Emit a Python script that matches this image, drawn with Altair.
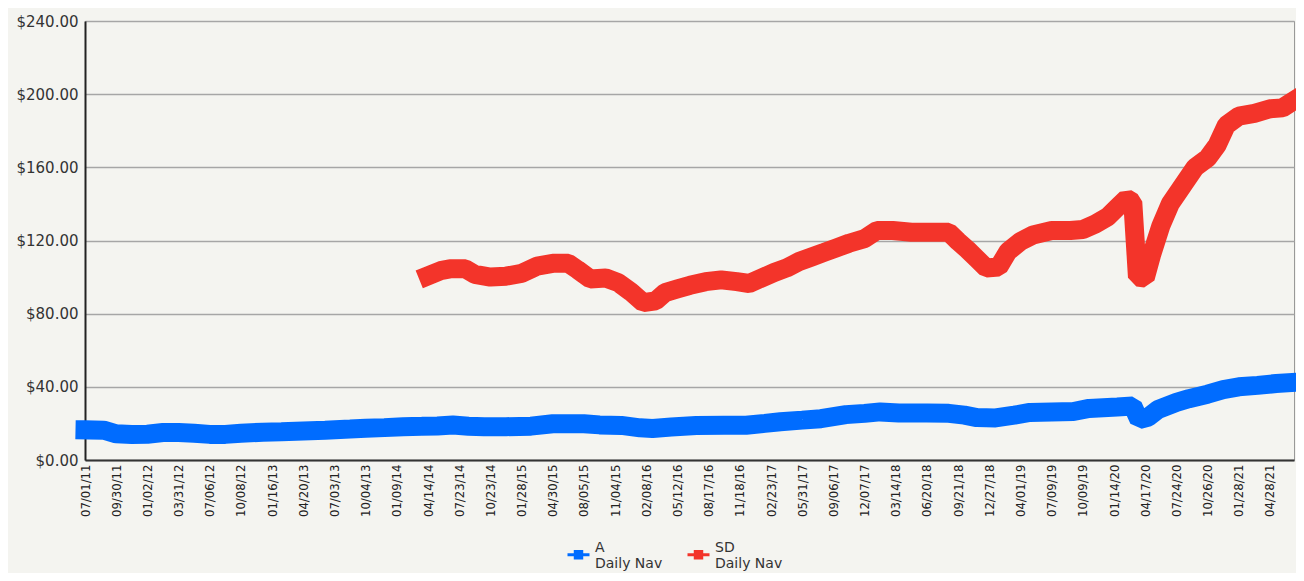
import altair as alt
import pandas as pd

tick_labels = [
    "07/01/11", "09/30/11", "01/02/12", "03/31/12", "07/06/12", "10/08/12",
    "01/16/13", "04/20/13", "07/03/13", "10/04/13", "01/09/14", "04/14/14",
    "07/23/14", "10/23/14", "01/28/15", "04/30/15", "08/05/15", "11/04/15",
    "02/08/16", "05/12/16", "08/17/16", "11/18/16", "02/23/17", "05/31/17",
    "09/06/17", "12/07/17", "03/14/18", "06/20/18", "09/21/18", "12/27/18",
    "04/01/19", "07/09/19", "10/09/19", "01/14/20", "04/17/20", "07/24/20",
    "10/26/20", "01/28/21", "04/28/21",
]

series_names = ["A", "SD"]
series_colors = ["#006cff", "#f3342a"]

# positions in units of tick intervals (trading-day index / tick step)
blue_t = [0.0, 0.6, 1.0, 1.5, 2.0, 2.5, 3.0, 3.5, 4.0, 4.5, 5.0, 5.7, 6.3, 7.0,
          7.7, 8.5, 9.0, 9.6, 10.2, 10.8, 11.3, 11.8, 12.3, 12.8, 13.5, 14.3,
          15.0, 16.0, 16.5, 17.2, 17.8, 18.2, 18.8, 19.6, 20.5, 21.2, 21.8,
          22.3, 23.0, 23.6, 24.4, 25.0, 25.5, 26.1, 27.0, 27.7, 28.2, 28.6,
          29.2, 29.8, 30.3, 31.0, 31.7, 32.2, 33.1, 33.6, 33.8, 34.1, 34.4,
          35.0, 35.4, 36.0, 36.5, 37.0, 37.6, 38.2, 38.77]
blue_v = [16.5, 16.3, 14.3, 14.0, 14.1, 15.0, 15.0, 14.6, 14.0, 14.0, 14.6,
          15.2, 15.5, 15.9, 16.3, 16.9, 17.3, 17.7, 18.2, 18.4, 18.6, 19.1,
          18.5, 18.2, 18.2, 18.5, 19.8, 19.8, 19.2, 18.9, 17.6, 17.2, 18.0,
          18.9, 19.0, 19.0, 20.0, 20.9, 21.8, 22.6, 24.8, 25.5, 26.3, 25.7,
          25.7, 25.5, 24.5, 23.2, 23.0, 24.5, 26.0, 26.3, 26.5, 28.2, 29.0,
          29.5, 22.0, 23.5, 27.5, 31.5, 33.5, 36.0, 38.5, 40.0, 40.8, 41.8,
          42.4]

red_t = [11.0, 11.4, 11.7, 12.2, 12.5, 13.0, 13.5, 14.0, 14.5, 15.0, 15.5,
         15.8, 16.2, 16.7, 17.1, 17.5, 17.9, 18.3, 18.6, 19.0, 19.4, 19.9,
         20.4, 20.9, 21.3, 21.7, 22.1, 22.5, 22.9, 23.3, 23.7, 24.1, 24.5,
         25.0, 25.4, 25.9, 26.5, 27.2, 27.7, 28.0, 28.3, 28.6, 28.9, 29.3,
         29.6, 30.0, 30.4, 31.0, 31.6, 32.0, 32.4, 32.8, 33.1, 33.4, 33.6,
         33.75, 34.0, 34.2, 34.5, 34.8, 35.2, 35.6, 36.0, 36.3, 36.6, 37.0,
         37.5, 38.0, 38.4, 38.77]
red_v = [100.7, 103.5, 104.5, 104.5, 101.5, 100.0, 100.5, 102.0, 106.0,
         107.5, 107.5, 104.0, 99.0, 99.5, 97.0, 92.0, 86.0, 87.0, 91.5, 93.5,
         95.5, 97.5, 98.5, 97.5, 96.5, 99.5, 102.5, 105.0, 108.5, 111.0,
         113.5, 116.0, 118.5, 121.0, 125.5, 125.5, 124.5, 124.5, 124.5, 119.5,
         115.0, 110.0, 105.0, 105.5, 114.0, 119.5, 123.0, 125.5, 125.5, 126.0,
         129.0, 133.0, 138.0, 143.0, 141.0, 100.0, 99.5, 112.0, 128.0, 140.0,
         150.0, 160.0, 165.0, 172.0, 183.0, 188.0, 189.5, 192.0, 192.5, 196.5]

rows = [{"t": t, "nav": v, "fund": "A"} for t, v in zip(blue_t, blue_v)]
rows += [{"t": t, "nav": v, "fund": "SD"} for t, v in zip(red_t, red_v)]
df = pd.DataFrame(rows)

label_js = "[" + ",".join("'" + s + "'" for s in tick_labels) + "]"

# line with a filled square, drawn lower so it sits between the two label lines
legend_symbol = ("M-1,0.64L1,0.64M-0.43,0.34L0.43,0.34M-0.43,0.54L0.43,0.54"
                 "M-0.43,0.74L0.43,0.74M-0.43,0.94L0.43,0.94")

chart = alt.Chart(df).mark_line(
    strokeWidth=19, strokeCap="square", strokeJoin="bevel"
).encode(
    x=alt.X(
        "t:Q",
        scale=alt.Scale(domain=[0, 38.77], nice=False, zero=False),
        axis=alt.Axis(
            values=list(range(len(tick_labels))),
            labelExpr=label_js + "[datum.value]",
            labelAngle=270,
            title=None,
            ticks=False,
            grid=False,
            labelPadding=4,
            labelFont="DejaVu Sans Condensed, Liberation Sans Narrow, sans-serif",
            labelFontSize=13,
            labelColor="#222222",
            labelOverlap=False,
            labelFlush=False,
            domainColor="#333333",
            domainWidth=2,
        ),
    ),
    y=alt.Y(
        "nav:Q",
        scale=alt.Scale(domain=[0, 240], nice=False),
        axis=alt.Axis(
            values=[0, 40, 80, 120, 160, 200, 240],
            format="$,.2f",
            title=None,
            ticks=False,
            labelPadding=7,
            labelFont="DejaVu Sans",
            labelFontSize=15,
            labelColor="#333333",
            gridColor="#a6a6a6",
            gridWidth=1.5,
            domainColor="#222222",
            domainWidth=2,
        ),
    ),
    color=alt.Color(
        "fund:N",
        scale=alt.Scale(domain=series_names, range=series_colors),
        legend=alt.Legend(
            title=None,
            orient="none",
            legendX=481,
            legendY=514,
            direction="horizontal",
            symbolType=legend_symbol,
            symbolSize=484,
            symbolStrokeWidth=3,
            labelExpr="[datum.label, 'Daily Nav']",
            labelFont="DejaVu Sans",
            labelFontSize=14,
            labelColor="#333333",
            labelOffset=4,
            columnPadding=18,
            padding=0,
        ),
    ),
).properties(
    width=1209,
    height=439,
    padding={"left": 77, "top": 13, "right": 2, "bottom": 113},
    autosize=alt.AutoSizeParams(type="none"),
    background="#f4f4f0",
).configure_view(
    stroke="#999999", strokeWidth=1, fill="#f4f4f0"
)

chart.save("out.html", embed_options={"renderer": "svg", "actions": False})
